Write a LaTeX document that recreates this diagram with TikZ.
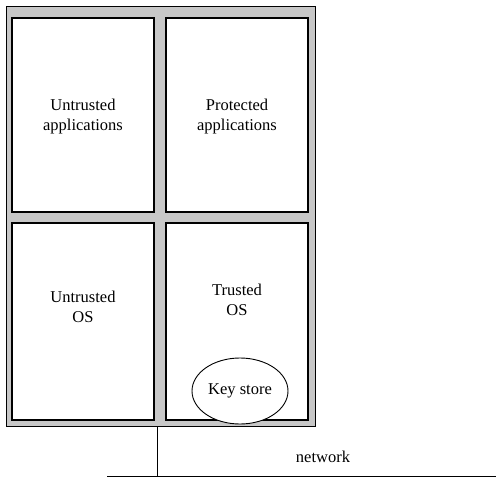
\documentclass[tikz,border=0pt]{standalone}
\usepackage{fontspec}
\setmainfont{Liberation Serif}
\usetikzlibrary{shapes.geometric}
\begin{document}
\begin{tikzpicture}[x=1pt,y=-1pt,
  frame/.style={draw=black,line width=0.8pt,fill=black!22},
  part/.style={draw=black,line width=1.3pt,fill=white},
  lbl/.style={font=\fontsize{16.5}{20}\selectfont,align=center,inner sep=0pt},
  wire/.style={draw=black,line width=0.9pt}]
\useasboundingbox (0,0) rectangle (496,479);
\path[frame] (6,6) rectangle (315,426);
\node[part,minimum width=142pt,minimum height=194pt,inner sep=0pt] (ua) at (83,115) {};
\node[part,minimum width=142pt,minimum height=194pt,inner sep=0pt] (pa) at (237,115) {};
\node[part,minimum width=142pt,minimum height=197pt,inner sep=0pt] (uo) at (83,321.5) {};
\node[part,minimum width=142pt,minimum height=197pt,inner sep=0pt] (to) at (237,321.5) {};
\node[lbl] (ual) at (83,117) {Untrusted\\applications};
\node[lbl] (pal) at (237,117) {Protected\\applications};
\node[lbl] (uol) at (83,307) {Untrusted\\OS};
\node[lbl] (tol) at (237,300) {Trusted\\OS};
\node[ellipse,draw=black,line width=0.9pt,fill=white,minimum width=96pt,minimum height=66pt,inner sep=0pt,font=\fontsize{16.5}{20}\selectfont] (ks) at (240,391) {Key store};
\coordinate (tap) at (157,426);
\coordinate (j) at (157,476);
\coordinate (nl) at (107,476);
\coordinate (nr) at (496,476);
\draw[wire] (tap) -- (j);
\draw[wire] (nl) -- (nr);
\node[lbl] (net) at (323,457) {network};
\end{tikzpicture}
\end{document}
